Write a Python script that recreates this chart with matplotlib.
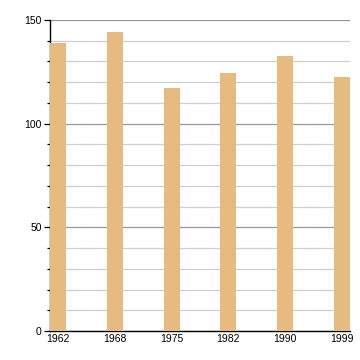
import matplotlib.pyplot as plt
from matplotlib.ticker import MultipleLocator

years = ["1962", "1968", "1975", "1982", "1990", "1999"]
values = [139, 144, 117, 124.3, 132.7, 122.4]

plt.rcParams["font.family"] = ["Liberation Sans", "DejaVu Sans"]

fig = plt.figure(figsize=(3.6, 3.6), dpi=100)
ax = fig.add_axes([50 / 360, 29 / 360, 300 / 360, 311 / 360])

w = 0.28
x = range(len(years))
ax.bar(x, values, width=w, color="#E6BB80", zorder=3)

ax.set_xlim(-w / 2, len(years) - 1 + w / 2)
ax.set_ylim(0, 150)
ax.yaxis.set_major_locator(MultipleLocator(50))
ax.yaxis.set_minor_locator(MultipleLocator(10))
ax.grid(axis="y", which="major", color="#9a9a9a", linewidth=0.9, zorder=0)
ax.grid(axis="y", which="minor", color="#cfcfcf", linewidth=0.9, zorder=0)

ax.set_xticks(list(x))
ax.set_xticklabels(years)
ax.tick_params(axis="x", length=0, pad=2, labelsize=7.5)
ax.tick_params(axis="y", which="major", length=4, width=0.9, pad=2, labelsize=7.5)
ax.tick_params(axis="y", which="minor", length=2, width=0.9)

for side in ["top", "right"]:
    ax.spines[side].set_visible(False)
ax.spines["left"].set_linewidth(1.0)
ax.spines["bottom"].set_linewidth(1.0)

plt.savefig("out.png", dpi=100)
